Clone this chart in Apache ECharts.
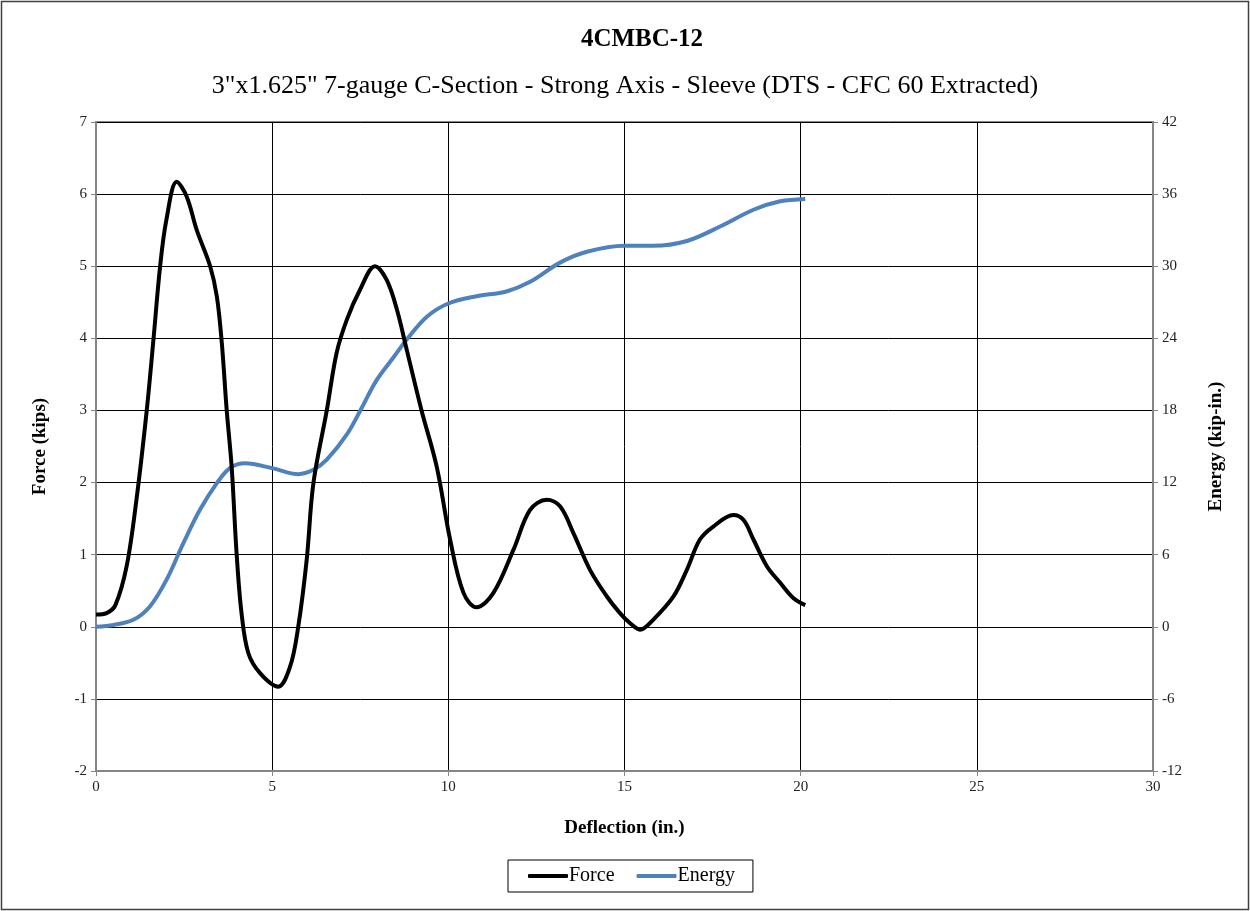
<!DOCTYPE html>
<html>
<head>
<meta charset="utf-8">
<script src="https://cdn.jsdelivr.net/npm/echarts@6/dist/echarts.min.js"></script>
<style>
  html, body { margin: 0; padding: 0; background: #fff; }
  #chart { width: 1250px; height: 911px; }
</style>
</head>
<body>
<div id="chart"></div>
<script>
// Deflection (in.) and force (kips) samples
const forceDeflection = [0, 0.3, 0.55, 0.87, 1.15, 1.44, 1.63, 1.82, 2.0, 2.29, 2.57, 2.86, 3.24, 3.43, 3.57, 3.71, 3.85, 3.99, 4.13, 4.32, 4.65, 5.17, 5.51, 5.74, 5.98, 6.17, 6.55, 6.83, 7.12, 7.49, 7.92, 8.25, 8.54, 8.82, 9.24, 9.67, 10.05, 10.43, 10.8, 11.28, 11.85, 12.32, 12.79, 13.17, 13.55, 14.02, 14.5, 14.87, 15.16, 15.44, 15.82, 16.39, 16.77, 17.14, 17.52, 18.09, 18.38, 18.66, 19.04, 19.42, 19.79, 20.13];
const forceKips = [0.17, 0.19, 0.3, 0.84, 1.77, 3.0, 3.98, 5.0, 5.65, 6.17, 5.97, 5.5, 5.0, 4.58, 3.94, 3.0, 2.22, 1.02, 0.19, -0.36, -0.64, -0.83, -0.55, 0, 0.93, 1.99, 3.0, 3.8, 4.26, 4.67, 5.0, 4.81, 4.4, 3.84, 3.0, 2.22, 1.21, 0.47, 0.27, 0.47, 1.07, 1.62, 1.76, 1.67, 1.3, 0.79, 0.42, 0.19, 0.05, -0.04, 0.1, 0.42, 0.79, 1.21, 1.39, 1.55, 1.48, 1.21, 0.84, 0.61, 0.4, 0.3];

// Deflection (in.) and absorbed energy (kip-in.) samples
const energyDeflection = [0, 0.5, 1.06, 1.53, 2.0, 2.48, 2.95, 3.43, 3.8, 4.23, 5.0, 5.74, 6.17, 6.55, 7.12, 7.54, 7.96, 8.44, 8.82, 9.39, 10.0, 10.8, 11.65, 12.32, 13.17, 13.93, 14.99, 15.82, 16.77, 17.71, 18.66, 19.42, 20.13];
const energyKipIn = [0, 0.15, 0.58, 1.69, 3.9, 6.96, 9.73, 11.95, 13.2, 13.6, 13.2, 12.7, 13.06, 13.9, 16.0, 18.2, 20.5, 22.4, 23.9, 25.8, 26.9, 27.5, 27.9, 28.7, 30.3, 31.2, 31.7, 31.7, 32.1, 33.3, 34.7, 35.4, 35.6];

const chartTitle = '4CMBC-12';
const chartSubtitle = '3"x1.625" 7-gauge C-Section - Strong Axis - Sleeve (DTS - CFC 60 Extracted)';

const serif = '"Liberation Serif", "Times New Roman", serif';
const axisGrey = '#868686';

const pairs = (xs, ys) => xs.map((x, i) => [x, ys[i]]);

const chart = echarts.init(document.getElementById('chart'), null, { renderer: 'canvas' });

const tickLabel = { color: '#222', fontFamily: serif, fontSize: 15, margin: 9 };

const valueAxisBase = {
  type: 'value',
  axisLine: { show: true, onZero: false, lineStyle: { color: axisGrey, width: 2 } },
  axisTick: { show: true, inside: false, length: 5, lineStyle: { color: axisGrey, width: 1 } },
  axisLabel: tickLabel,
  splitLine: { show: true, lineStyle: { color: '#000', width: 1 } },
  nameTextStyle: { color: '#000', fontFamily: serif, fontSize: 19, fontWeight: 'bold' },
  nameLocation: 'middle'
};

chart.setOption({
  animation: false,
  backgroundColor: '#fff',
  graphic: [
    {
      type: 'rect', silent: true,
      shape: { x: 1.5, y: 1.5, width: 1247, height: 908 },
      style: { fill: 'none', stroke: '#404040', lineWidth: 1.5 }
    },
    {
      type: 'text', silent: true, x: 642, y: 40,
      style: { text: chartTitle, textAlign: 'center', textVerticalAlign: 'middle',
               font: 'bold 25px ' + serif, fill: '#000' }
    },
    {
      type: 'text', silent: true, x: 625, y: 86,
      style: { text: chartSubtitle, textAlign: 'center', textVerticalAlign: 'middle',
               font: '26px ' + serif, fill: '#000' }
    }
  ],
  grid: { left: 96, right: 97, top: 122, bottom: 140, containLabel: false,
          show: true, borderColor: axisGrey, borderWidth: 2 },
  legend: {
    left: 508, top: 860,
    padding: [6, 18, 6, 20],
    borderColor: '#000', borderWidth: 1,
    icon: 'roundRect',
    itemWidth: 40, itemHeight: 4, itemGap: 22,
    textStyle: { fontFamily: serif, fontSize: 20, color: '#000', padding: [0, 0, 0, -4] },
    data: ['Force', 'Energy']
  },
  xAxis: Object.assign({}, valueAxisBase, {
    min: 0, max: 30, interval: 5,
    name: 'Deflection (in.)', nameGap: 48
  }),
  yAxis: [
    Object.assign({}, valueAxisBase, {
      min: -2, max: 7, interval: 1,
      name: 'Force (kips)', nameGap: 46, position: 'left'
    }),
    Object.assign({}, valueAxisBase, {
      min: -12, max: 42, interval: 6,
      name: 'Energy (kip-in.)', nameGap: 54, position: 'right',
      splitLine: { show: false }
    })
  ],
  series: [
    {
      name: 'Force', type: 'line', yAxisIndex: 0,
      data: pairs(forceDeflection, forceKips),
      smooth: 0.35, symbol: 'none',
      lineStyle: { color: '#000', width: 4 },
      itemStyle: { color: '#000' },
      z: 3
    },
    {
      name: 'Energy', type: 'line', yAxisIndex: 1,
      data: pairs(energyDeflection, energyKipIn),
      smooth: 0.35, symbol: 'none',
      lineStyle: { color: '#4f81bd', width: 4 },
      itemStyle: { color: '#4f81bd' },
      z: 2
    }
  ]
});
</script>
</body>
</html>
